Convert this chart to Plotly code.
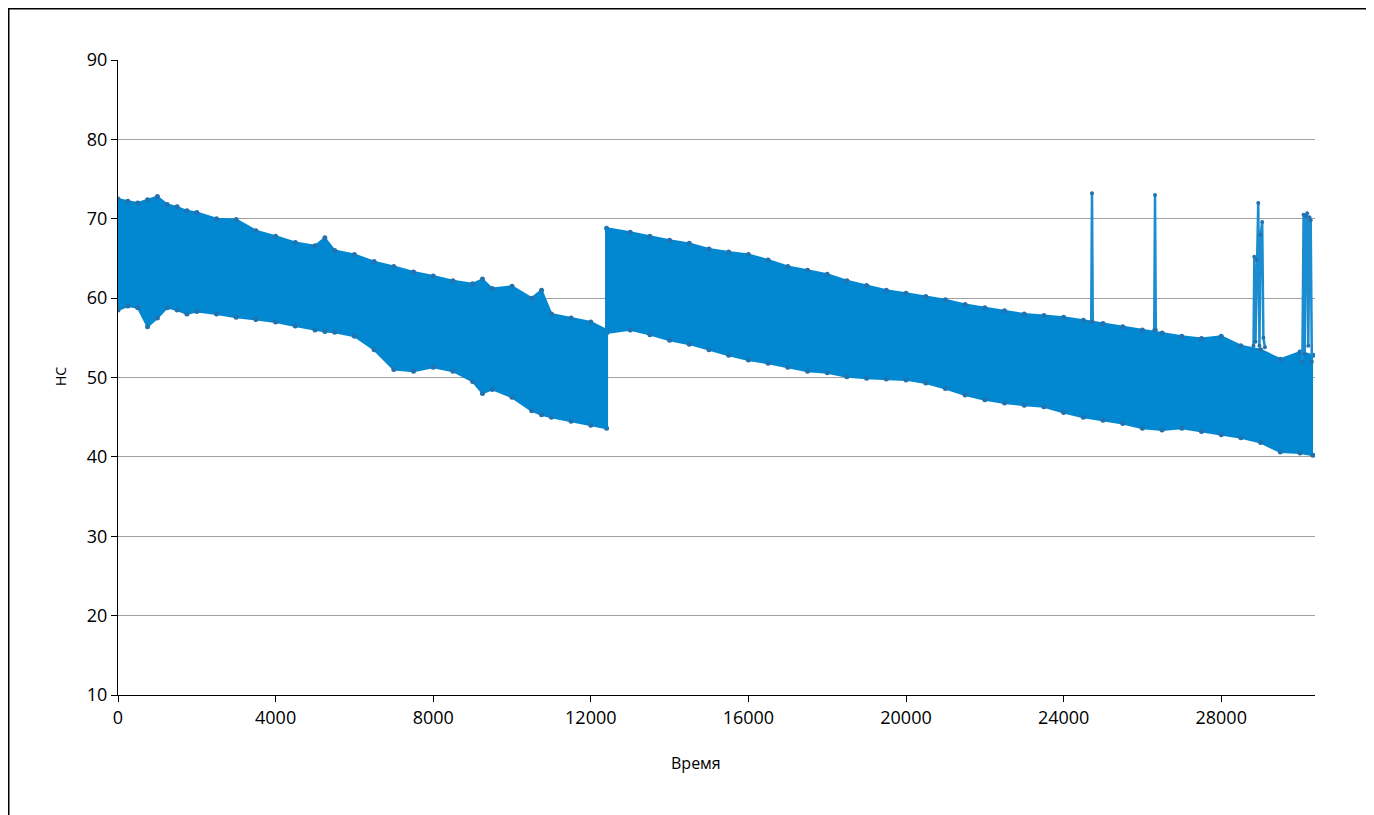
import plotly.graph_objects as go

# ---- data (envelope of the dense noisy series) ----
env_x = [0, 250, 500, 750, 1000, 1250, 1500, 1750, 2000, 2500, 3000, 3500, 4000, 4500, 5000, 5250, 5500, 6000,
         6500, 7000, 7500, 8000, 8500, 9000, 9250, 9500, 10000, 10500, 10750, 11000, 11500, 12000, 12400,
         12400, 13000, 13500, 14000, 14500, 15000, 15500, 16000, 16500, 17000, 17500, 18000,
         18500, 19000, 19500, 20000, 20500, 21000, 21500, 22000, 22500, 23000, 23500, 24000,
         24500, 25000, 25500, 26000, 26500, 27000, 27500, 28000, 28500, 29000, 29500, 30000, 30330]
upper = [72.5, 72.2, 72.0, 72.4, 72.8, 71.8, 71.5, 71.0, 70.8, 70.0, 69.9, 68.5, 67.8, 67.0, 66.6, 67.6, 66.0, 65.5,
         64.6, 64.0, 63.3, 62.8, 62.2, 61.8, 62.4, 61.2, 61.5, 60.0, 61.0, 58.0, 57.5, 57.0, 56.0,
         68.8, 68.3, 67.8, 67.3, 66.9, 66.2, 65.8, 65.5, 64.8, 64.0, 63.5, 63.0,
         62.2, 61.6, 61.0, 60.6, 60.2, 59.8, 59.2, 58.8, 58.4, 58.0, 57.8, 57.6,
         57.2, 56.8, 56.4, 56.0, 55.6, 55.2, 54.9, 55.2, 54.0, 53.5, 52.3, 53.2, 52.8]
lower = [58.5, 59.0, 58.8, 56.4, 57.5, 58.8, 58.5, 58.0, 58.3, 58.0, 57.6, 57.3, 57.0, 56.5, 56.0, 55.8, 55.7, 55.2,
         53.5, 51.0, 50.8, 51.3, 50.8, 49.5, 48.0, 48.5, 47.5, 45.8, 45.3, 45.0, 44.5, 44.0, 43.6,
         55.6, 56.0, 55.4, 54.7, 54.2, 53.5, 52.8, 52.2, 51.8, 51.3, 50.8, 50.6,
         50.1, 49.9, 49.8, 49.7, 49.3, 48.6, 47.8, 47.2, 46.8, 46.5, 46.3, 45.6,
         45.0, 44.6, 44.2, 43.6, 43.4, 43.6, 43.2, 42.8, 42.4, 41.8, 40.6, 40.5, 40.2]

# vertical jump at the restart
jump_x = [12400, 12400]
jump_y = [43.6, 68.8]

# spikes above the band
spike_a_x = [24700, 24720, 24740]
spike_a_y = [57.0, 73.2, 57.0]
spike_b_x = [26300, 26320, 26340]
spike_b_y = [56.0, 73.0, 56.0]
spike_c_x = [28820, 28840, 28870, 28900, 28940, 28970, 29000, 29040, 29070, 29110]
spike_c_y = [54.0, 65.2, 54.5, 64.8, 72.0, 54.0, 68.0, 69.6, 55.0, 53.8]
spike_d_x = [30060, 30090, 30120, 30150, 30180, 30210, 30240, 30270, 30300]
spike_d_y = [52.0, 70.5, 53.0, 70.3, 70.7, 54.0, 70.2, 69.8, 52.0]

x_ticks = [0, 4000, 8000, 12000, 16000, 20000, 24000, 28000]
y_ticks = [10, 20, 30, 40, 50, 60, 70, 80, 90]
x_title = "Время"
y_title = "HC"

BLUE = "#0288d1"
DOT = "#2472ad"
FONT = "Open Sans"

fig = go.Figure()
fig.add_trace(go.Scatter(x=env_x, y=lower, mode="lines+markers",
                         line=dict(color=BLUE, width=2),
                         marker=dict(color=DOT, size=5), showlegend=False))
fig.add_trace(go.Scatter(x=env_x, y=upper, mode="lines+markers", fill="tonexty",
                         fillcolor=BLUE, line=dict(color=BLUE, width=2),
                         marker=dict(color=DOT, size=5), showlegend=False))
fig.add_trace(go.Scatter(x=jump_x, y=jump_y, mode="lines",
                         line=dict(color=BLUE, width=3), showlegend=False))
for sx, sy in [(spike_a_x, spike_a_y), (spike_b_x, spike_b_y),
               (spike_c_x, spike_c_y), (spike_d_x, spike_d_y)]:
    fig.add_trace(go.Scatter(x=sx, y=sy, mode="lines+markers",
                             line=dict(color="#1a8ccf", width=2.5),
                             marker=dict(color=DOT, size=4), showlegend=False))

# page has an 8px body margin, so figure is 8px smaller and offsets reduced
W, H = 1366, 807
L, T = 110, 52
R = W - 1307
B = H - 687
pw, ph = W - L - R, H - T - B

fig.update_layout(
    width=W, height=H,
    margin=dict(l=L, r=R, t=T, b=B, autoexpand=False),
    paper_bgcolor="white", plot_bgcolor="white",
    font=dict(family=FONT, size=18, color="#000000"),
    xaxis=dict(range=[0, 30380], tickvals=x_ticks, ticktext=[str(v) for v in x_ticks],
               showgrid=False, zeroline=False, showline=True, linecolor="#000000",
               linewidth=1, ticks="outside", ticklen=6, tickcolor="#000000",
               tickfont=dict(size=18), automargin=False),
    yaxis=dict(range=[10, 90], tickvals=y_ticks, showgrid=True, gridcolor="#a0a0a0",
               gridwidth=1, zeroline=False, showline=True, linecolor="#000000",
               linewidth=1, ticks="outside", ticklen=6, tickcolor="#000000",
               tickfont=dict(size=18), automargin=False),
    annotations=[
        dict(text=x_title, xref="paper", yref="paper", showarrow=False,
             x=(688 - L) / pw, y=(H - B - 755) / ph, xanchor="center", yanchor="middle",
             font=dict(size=16, family=FONT)),
        dict(text=y_title, xref="paper", yref="paper", showarrow=False, textangle=-90,
             x=(52 - L) / pw, y=(H - B - 369) / ph, xanchor="center", yanchor="middle",
             font=dict(size=14, family=FONT)),
    ],
    shapes=[dict(type="rect", xref="paper", yref="paper",
                 x0=(0.75 - L) / pw, x1=(1360 - L) / pw,
                 y0=(H - B - 840) / ph, y1=(H - B - 0.75) / ph,
                 line=dict(color="#000000", width=1.5), fillcolor="rgba(0,0,0,0)",
                 layer="below")],
)

fig.write_html("out.html")
